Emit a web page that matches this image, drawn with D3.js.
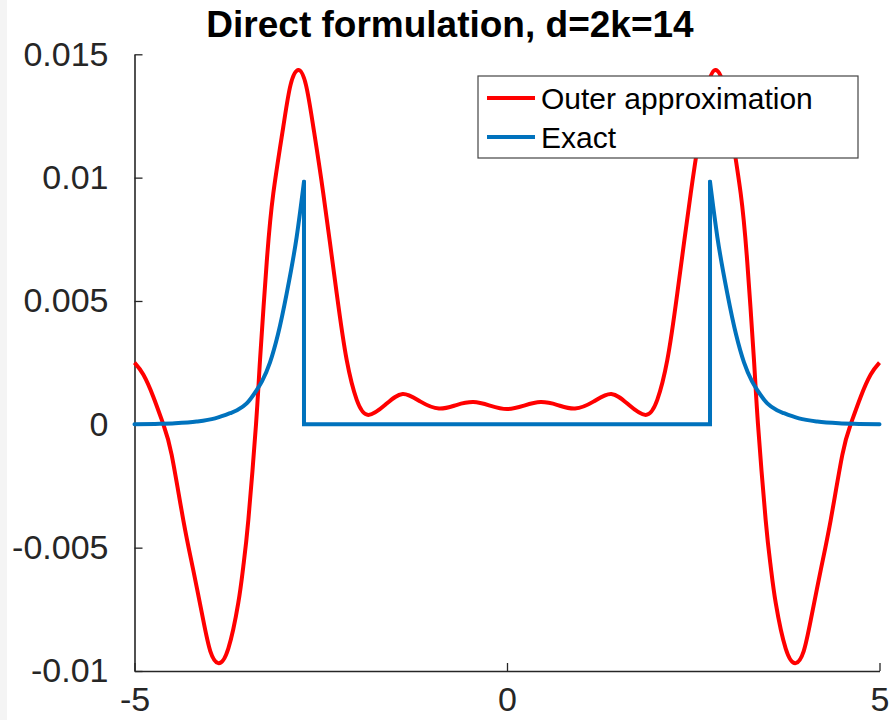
<!DOCTYPE html>
<html>
<head>
<meta charset="utf-8">
<script src="https://cdn.jsdelivr.net/npm/d3@7"></script>
<style>
  body { margin: 0; background: #fff; }
  svg { display: block; font-family: "Liberation Sans", Arial, sans-serif; }
</style>
</head>
<body>
<svg width="890" height="720"></svg>
<script>
// values
const outerX = [-5.0, -4.882, -4.748, -4.613, -4.501, -4.345, -4.211, -4.077, -3.983, -3.875, -3.741, -3.607, -3.54,
  -3.472, -3.369, -3.315, -3.225, -3.137, -3.003, -2.906, -2.801, -2.698, -2.6, -2.466, -2.286, -2.152, -2.017,
  -1.862, -1.63, -1.4, -1.16, -0.913, -0.68, -0.452, -0.23, 0,
  0.23, 0.452, 0.68, 0.913, 1.16, 1.4, 1.63, 1.862,
  2.017, 2.152, 2.286, 2.466, 2.6, 2.698, 2.801, 2.906, 3.003, 3.137, 3.225, 3.315, 3.369,
  3.472, 3.54, 3.607, 3.741, 3.875, 3.983, 4.077, 4.211, 4.345, 4.501, 4.613, 4.748, 4.882, 5.0]
const outerY = [0.0025, 0.00202, 0.00112, 0, -0.00124, -0.00388, -0.00591, -0.00794, -0.00919, -0.00968, -0.00909, -0.00724, -0.00577,
  -0.00388, 0, 0.00261, 0.00658, 0.00936, 0.01206, 0.01375, 0.01436, 0.01375, 0.01206, 0.00936, 0.00531, 0.00261, 0.00099,
  0.00038, 0.0008, 0.00123, 0.00092, 0.00064, 0.00078, 0.0009, 0.00076, 0.00062,
  0.00076, 0.0009, 0.00078, 0.00064, 0.00092, 0.00123, 0.0008, 0.00038,
  0.00099, 0.00261, 0.00531, 0.00936, 0.01206, 0.01375, 0.01436, 0.01375, 0.01206, 0.00936, 0.00658, 0.00261, 0,
  -0.00388, -0.00577, -0.00724, -0.00909, -0.00968, -0.00919, -0.00794, -0.00591, -0.00388, -0.00124, 0, 0.00112, 0.00202, 0.0025]

// exact solution has a jump at +-2.725 (same x twice)
const exactX = [-5.0, -4.725, -4.456, -4.165, -3.919, -3.718, -3.624, -3.494, -3.36, -3.289, -3.181, -3.074, -2.957, -2.823, -2.725,
  -2.725, 2.725,
  2.725, 2.823, 2.957, 3.074, 3.181, 3.289, 3.36, 3.494, 3.624, 3.718, 3.919, 4.165, 4.456, 4.725, 5.0]
const exactY = [0, 0.000016, 0.00004, 0.00011, 0.00024, 0.00045, 0.00057, 0.00085, 0.00139, 0.00174, 0.00251, 0.00365, 0.00531, 0.0076, 0.00983,
  0, 0,
  0.00983, 0.0076, 0.00531, 0.00365, 0.00251, 0.00174, 0.00139, 0.00085, 0.00057, 0.00045, 0.00024, 0.00011, 0.00004, 0.000016, 0]

const xTicks = [-5, 0, 5]
const xTickLabels = ['-5', '0', '5']
const yTicks = [-0.01, -0.005, 0, 0.005, 0.01, 0.015]
const yTickLabels = ['-0.01', '-0.005', '0', '0.005', '0.01', '0.015']

const seriesNames = ['Outer approximation', 'Exact']
const seriesColors = ['#ff0000', '#0072bd']

const svg = d3.select('svg')
const box = { left: 134.5, right: 879.5, top: 54.3, bottom: 671 }

const x = d3.scaleLinear().domain([-5, 5]).range([box.left, box.right])
const y = d3.scaleLinear().domain([-0.01, 0.015]).range([box.bottom, box.top])

// thin grey strip on the far left like the original export
svg.append('rect').attr('x', 0).attr('y', 0).attr('width', 7).attr('height', 720).attr('fill', '#f4f4f4')

drawAxes()
drawLines()
drawLegend()

svg.append('text')
  .attr('x', 450)
  .attr('y', 37)
  .attr('text-anchor', 'middle')
  .attr('font-weight', 'bold')
  .attr('font-size', 37)
  .attr('fill', '#000')
  .text('Direct formulation, d=2k=14')

function drawAxes() {
  const yAxis = d3.axisLeft(y)
    .tickValues(yTicks)
    .tickFormat((d, i) => yTickLabels[i])
    .tickSizeInner(-8)
    .tickSizeOuter(0)
    .tickPadding(26)
  const xAxis = d3.axisBottom(x)
    .tickValues(xTicks)
    .tickFormat((d, i) => xTickLabels[i])
    .tickSizeInner(-8)
    .tickSizeOuter(0)
    .tickPadding(16)

  const gy = svg.append('g').attr('transform', `translate(${box.left},0)`).call(yAxis)
  const gx = svg.append('g').attr('transform', `translate(0,${box.bottom})`).call(xAxis)

  for (const g of [gx, gy]) {
    g.select('.domain').attr('stroke', '#262626').attr('stroke-width', 1.6)
    g.selectAll('.tick line').attr('stroke', '#262626').attr('stroke-width', 1.3)
    g.selectAll('.tick text')
      .attr('fill', '#262626')
      .attr('font-size', 34)
      .attr('font-family', '"Liberation Sans", Arial, sans-serif')
  }
}

function drawLines() {
  const smooth = d3.line().x(d => x(d[0])).y(d => y(d[1])).curve(d3.curveNatural)
  const mono = d3.line().x(d => x(d[0])).y(d => y(d[1])).curve(d3.curveMonotoneX)
  const straight = d3.line().x(d => x(d[0])).y(d => y(d[1]))

  const outer = outerX.map((v, i) => [v, outerY[i]])
  svg.append('path')
    .attr('d', smooth(outer))
    .attr('fill', 'none')
    .attr('stroke', seriesColors[0])
    .attr('stroke-width', 4)
    .attr('stroke-linejoin', 'round')

  // split exact at the two vertical jumps
  const exact = exactX.map((v, i) => [v, exactY[i]])
  const jumps = []
  exact.forEach((p, i) => { if (i < exact.length - 1 && exact[i + 1][0] === p[0]) jumps.push(i) })
  const parts = [
    { pts: exact.slice(0, jumps[0] + 1), gen: mono },
    { pts: exact.slice(jumps[0], jumps[1] + 2), gen: straight },
    { pts: exact.slice(jumps[1] + 1), gen: mono }
  ]
  svg.selectAll('path.exact')
    .data(parts)
    .enter()
    .append('path')
      .attr('class', 'exact')
      .attr('d', d => d.gen(d.pts))
      .attr('fill', 'none')
      .attr('stroke', seriesColors[1])
      .attr('stroke-width', 4)
      .attr('stroke-linejoin', 'miter')
      .attr('stroke-linecap', 'round')
}

function drawLegend() {
  const lg = svg.append('g')
  lg.append('rect')
    .attr('x', 478).attr('y', 76)
    .attr('width', 380).attr('height', 82)
    .attr('fill', '#fff')
    .attr('stroke', '#444')
    .attr('stroke-width', 1.2)

  const rows = lg.selectAll('g.row')
    .data(seriesNames)
    .enter()
    .append('g')
      .attr('class', 'row')
      .attr('transform', (d, i) => `translate(0,${98 + i * 39})`)
  rows.append('line')
    .attr('x1', 487).attr('x2', 535)
    .attr('stroke', (d, i) => seriesColors[i])
    .attr('stroke-width', 4)
  rows.append('text')
    .attr('x', 541)
    .attr('dy', '0.36em')
    .attr('font-size', 30)
    .attr('fill', '#000')
    .text(d => d)
}
</script>
</body>
</html>
